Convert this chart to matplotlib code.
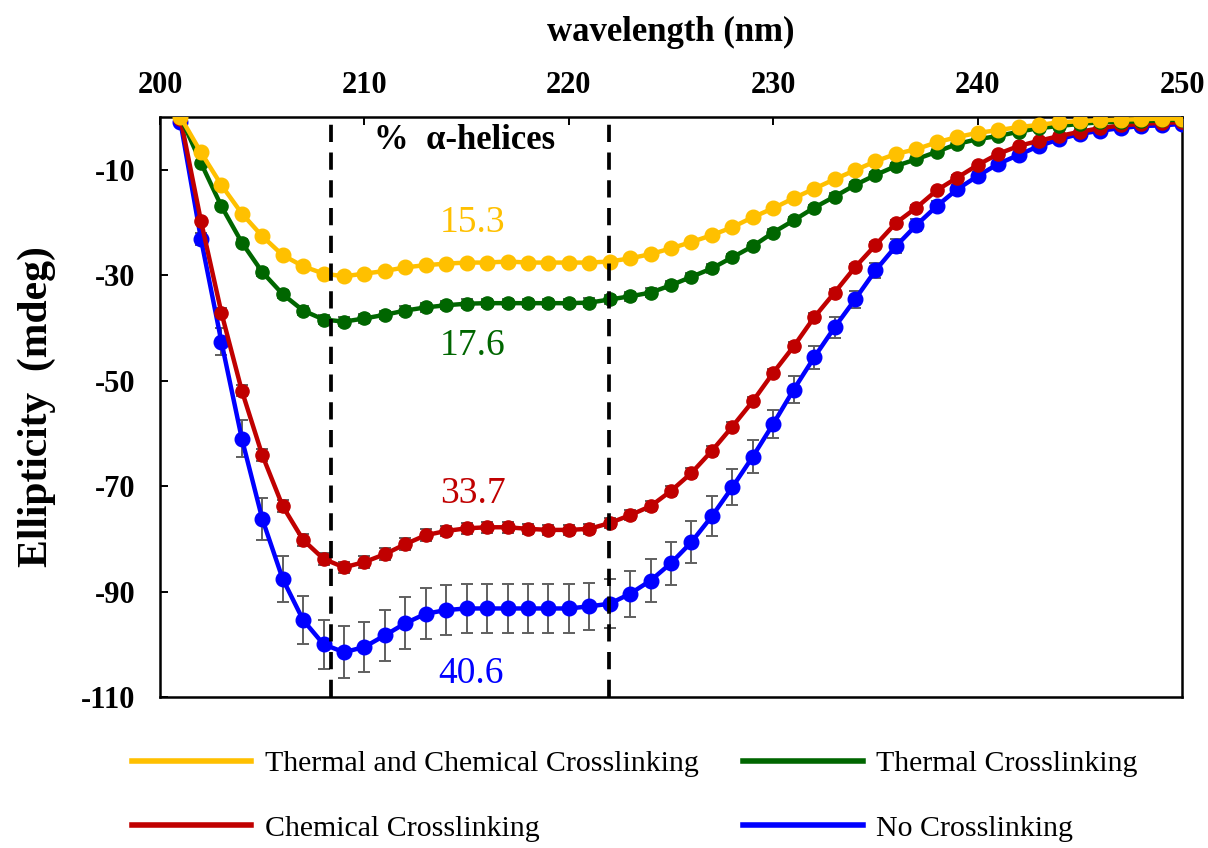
import matplotlib.pyplot as plt
import numpy as np
from matplotlib.lines import Line2D

wavelength = np.arange(201, 251)

# Thermal and Chemical Crosslinking
tcc = [0, -6.7, -12.9, -18.3, -22.6, -26.2, -28.3, -29.7, -30.2, -29.7,
       -29.2, -28.5, -28.1, -27.8, -27.6, -27.6, -27.4, -27.6, -27.6, -27.6,
       -27.6, -27.4, -26.8, -26.0, -24.9, -23.7, -22.4, -20.9, -19.0, -17.3,
       -15.4, -13.6, -11.8, -10.1, -8.4, -7.0, -6.1, -4.8, -3.8, -3.0,
       -2.5, -1.9, -1.5, -1.0, -0.8, -0.6, -0.5, -0.4, -0.3, -0.3]
tcc_err = [0.2] * 50

# Thermal Crosslinking
tc = [0, -8.7, -16.9, -23.8, -29.4, -33.6, -36.7, -38.4, -38.8, -38.2,
      -37.5, -36.7, -36.1, -35.7, -35.4, -35.3, -35.3, -35.3, -35.3, -35.3,
      -35.2, -34.6, -34.0, -33.3, -31.9, -30.3, -28.7, -26.6, -24.5, -21.9,
      -19.6, -17.2, -15.1, -12.9, -11.0, -9.3, -8.0, -6.6, -5.1, -4.2,
      -3.6, -2.8, -2.1, -1.7, -1.3, -1.0, -0.9, -0.8, -0.6, -0.5]
tc_err = [0.2, 0.4, 0.6, 0.7, 0.8, 0.8, 0.8, 0.8, 0.8, 0.8,
          0.8, 0.8, 0.8, 0.8, 0.8, 0.8, 0.8, 0.8, 0.8, 0.8,
          0.8, 0.8, 0.8, 0.8, 0.8, 0.8, 0.8, 0.7, 0.7, 0.7,
          0.6, 0.6, 0.6, 0.5, 0.5, 0.5, 0.4, 0.4, 0.4, 0.3,
          0.3, 0.3, 0.3, 0.2, 0.2, 0.2, 0.2, 0.2, 0.2, 0.2]

# Chemical Crosslinking
cc = [-0.3, -19.7, -37.1, -51.9, -64.1, -73.8, -80.2, -83.8, -85.4, -84.4,
      -82.9, -81.0, -79.3, -78.5, -78.0, -77.8, -77.8, -78.1, -78.3, -78.3,
      -78.1, -77.0, -75.5, -73.8, -70.9, -67.5, -63.3, -58.7, -53.9, -48.5,
      -43.5, -38.0, -33.3, -28.5, -24.3, -20.1, -17.2, -13.9, -11.5, -9.1,
      -7.0, -5.5, -4.5, -3.6, -2.8, -2.1, -1.6, -1.3, -1.1, -1.0]
cc_err = [0.2, 0.5, 0.8, 1.0, 1.1, 1.1, 1.1, 1.1, 1.1, 1.1,
          1.1, 1.1, 1.1, 1.0, 1.0, 1.0, 1.0, 1.0, 1.0, 1.0,
          1.0, 1.0, 0.9, 0.9, 0.9, 0.9, 0.9, 0.9, 0.8, 0.8,
          0.8, 0.8, 0.7, 0.7, 0.6, 0.6, 0.5, 0.5, 0.5, 0.4,
          0.4, 0.4, 0.3, 0.3, 0.3, 0.3, 0.2, 0.2, 0.2, 0.2]

# No Crosslinking
nc = [-1.0, -23.1, -42.6, -61.0, -76.2, -87.6, -95.4, -100.0, -101.5, -100.5,
      -98.3, -96.0, -94.2, -93.5, -93.2, -93.2, -93.2, -93.2, -93.2, -93.2,
      -92.8, -92.3, -90.4, -87.9, -84.6, -80.6, -75.7, -70.2, -64.4, -58.2,
      -51.7, -45.6, -39.9, -34.6, -29.1, -24.5, -20.5, -16.9, -13.7, -11.2,
      -8.9, -7.2, -5.5, -4.2, -3.2, -2.6, -2.1, -1.7, -1.6, -1.3]
nc_err = [0.5, 1.2, 2.5, 3.5, 4.0, 4.4, 4.6, 4.7, 4.9, 4.7,
          4.8, 4.9, 4.8, 4.7, 4.7, 4.7, 4.7, 4.7, 4.7, 4.7,
          4.5, 4.6, 4.4, 4.1, 4.1, 4.0, 3.8, 3.4, 3.2, 2.7,
          2.5, 2.1, 2.0, 1.6, 1.5, 1.3, 1.1, 1.0, 0.8, 0.7,
          0.6, 0.5, 0.5, 0.4, 0.4, 0.3, 0.3, 0.3, 0.3, 0.3]

helix_pct = ['15.3', '17.6', '33.7', '40.6']
labels = ['Thermal and Chemical Crosslinking', 'Thermal Crosslinking',
          'Chemical Crosslinking', 'No Crosslinking']
colors = ['#FFC000', '#006600', '#C00000', '#0000FF']
sizes = [10.5, 9.5, 9.5, 10.5]
series = [tcc, tc, cc, nc]
errors = [tcc_err, tc_err, cc_err, nc_err]
# where the % helix numbers sit (x, baseline y)
note_x = [215.3, 215.3, 215.3, 215.2]
note_y = [-21.8, -45.2, -73.2, -107.4]

plt.rcParams['font.family'] = ['Liberation Serif', 'DejaVu Serif']
plt.rcParams['axes.unicode_minus'] = False

fig = plt.figure(figsize=(12.08, 8.48), dpi=100)
ax = fig.add_axes([0.1325, 0.178, 0.846, 0.684])

for i in [3, 2, 1, 0]:
    ax.errorbar(wavelength, series[i], yerr=errors[i], fmt='none', ecolor='#5f5f5f',
                elinewidth=1.4, capsize=4, capthick=1.4, zorder=2)
    ax.plot(wavelength, series[i], '-o', color=colors[i], lw=3.2, ms=sizes[i], zorder=3)
    ax.text(note_x[i], note_y[i], helix_pct[i], color=colors[i], fontsize=27,
            ha='center', va='baseline', zorder=4)

for xv in [208.35, 221.95]:
    ax.axvline(xv, color='black', lw=2.7, dashes=(4.6, 2.8), zorder=4)

ax.text(214.9, -6.1, '%  α-helices', fontsize=25, fontweight='bold',
        ha='center', va='baseline')

ax.set_xlim(200, 250)
ax.set_ylim(-110, 0)
ax.set_xticks(np.arange(200, 251, 10))
ax.set_yticks(np.arange(-10, -111, -20))
ax.xaxis.tick_top()
ax.xaxis.set_label_position('top')
ax.tick_params(direction='in', length=6, width=1.4, labelsize=22)
ax.tick_params(axis='x', pad=12)
ax.tick_params(axis='y', pad=18)
for t in ax.get_xticklabels() + ax.get_yticklabels():
    t.set_fontweight('bold')
for s in ax.spines.values():
    s.set_linewidth(1.8)

ax.set_xlabel('wavelength (nm)', fontsize=25, fontweight='bold', labelpad=22)
ax.set_ylabel('Ellipticity  (mdeg)', fontsize=30, fontweight='bold', labelpad=18)

handles = [Line2D([], [], color=c, lw=4) for c in colors]
order = [0, 2, 1, 3]
fig.legend([handles[k] for k in order], [labels[k] for k in order], ncol=2,
           loc='upper left', bbox_to_anchor=(0.109, 0.115), frameon=False,
           fontsize=21.5, handlelength=4.0, handletextpad=0.45, columnspacing=1.5,
           labelspacing=1.25, borderpad=0, borderaxespad=0)

fig.savefig('out.png', dpi=100)
